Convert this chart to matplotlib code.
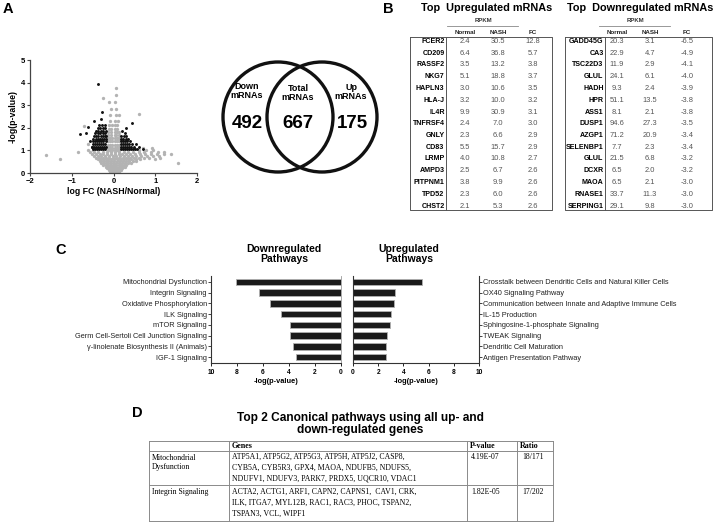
import matplotlib
matplotlib.use('Agg')
import matplotlib.pyplot as plt
from matplotlib.patches import Circle

plt.rcParams['font.family'] = ['Liberation Sans', 'DejaVu Sans']

W, H = 714, 524

# ---------------- data ----------------
# Panel A volcano, rows of (y, [x...])
gray_rows = [
    (0.04, [-0.08, -0.04, 0.0, 0.04, 0.08, 0.12]),
    (0.12, [-0.11, -0.07, -0.03, 0.01, 0.05, 0.09, 0.13, 0.17]),
    (0.20, [-0.15, -0.1, -0.05, 0.0, 0.05, 0.1, 0.15, 0.2]),
    (0.28, [-0.19, -0.14, -0.08, -0.03, 0.02, 0.07, 0.12, 0.17, 0.22, 0.27]),
    (0.36, [-0.24, -0.18, -0.12, -0.06, 0.0, 0.06, 0.12, 0.18, 0.24, 0.3]),
    (0.44, [-0.29, -0.22, -0.15, -0.08, -0.01, 0.06, 0.13, 0.2, 0.27, 0.34, 0.41]),
    (0.52, [-0.33, -0.26, -0.19, -0.12, -0.05, 0.02, 0.09, 0.16, 0.23, 0.3, 0.38, 0.46, 0.55]),
    (0.60, [-0.38, -0.3, -0.22, -0.14, -0.06, 0.02, 0.1, 0.18, 0.26, 0.34, 0.43, 0.53, 0.64]),
    (0.68, [-0.42, -0.34, -0.26, -0.18, -0.1, -0.02, 0.06, 0.14, 0.22, 0.3, 0.39, 0.49, 0.6, 0.72, 0.85]),
    (0.76, [-0.47, -0.38, -0.29, -0.2, -0.11, -0.02, 0.07, 0.16, 0.25, 0.34, 0.44, 0.55, 0.67, 0.8, 0.95, 1.1]),
    (0.84, [-0.51, -0.42, -0.33, -0.24, -0.15, -0.06, 0.03, 0.12, 0.21, 0.3, 0.4, 0.51, 0.63, 0.76, 0.9, 1.05, 1.2, 1.38]),
    (0.92, [-0.56, -0.46, -0.36, -0.26, -0.16, -0.06, 0.04, 0.14, 0.24, 0.35, 0.47, 0.6, 0.74, 0.9, 1.06, 1.22]),
    (1.00, [-0.6, -0.5, -0.13, -0.08, -0.03, 0.03, 0.08, 0.13, 0.62, 0.78, 0.95]),
    (1.12, [-0.14, -0.09, -0.04, 0.04, 0.09, 0.14, 0.7, 0.92]),
    (1.26, [-0.14, -0.09, -0.04, 0.04, 0.09, 0.13]),
    (1.40, [-0.14, -0.08, -0.03, 0.03, 0.08, 0.13]),
    (1.54, [-0.13, -0.08, -0.03, 0.03, 0.08, 0.12]),
    (1.68, [-0.12, -0.07, 0.03, 0.07, 0.12]),
    (1.82, [-0.12, -0.06, 0.03, 0.08, 0.13]),
    (1.96, [-0.11, -0.05, 0.03, 0.08]),
    (2.12, [-0.1, -0.04, 0.03, 0.09]),
    (2.30, [-0.09, 0.04, 0.1]),
    (2.55, [-0.08, 0.05, 0.12]),
    (2.85, [-0.06, 0.06]),
    (3.15, [-0.1, 0.04]),
    (3.45, [0.06]),
    (3.75, [0.07]),
]
gray_extra_x = [-1.62, -1.28, -0.85, -0.7, -0.62, 1.55, 1.0, 0.6, -0.25, 1.12]
gray_extra_y = [0.78, 0.6, 0.95, 2.1, 1.3, 0.45, 0.62, 2.6, 3.3, 0.68]

down_rows = [
    (1.04, [-0.5, -0.45, -0.4, -0.35, -0.3, -0.25, -0.2]),
    (1.16, [-0.52, -0.47, -0.42, -0.37, -0.32, -0.27, -0.22, -0.17]),
    (1.28, [-0.5, -0.45, -0.4, -0.35, -0.3, -0.25, -0.2]),
    (1.40, [-0.49, -0.44, -0.39, -0.34, -0.29, -0.24, -0.18]),
    (1.52, [-0.48, -0.43, -0.38, -0.33, -0.28, -0.23, -0.18]),
    (1.64, [-0.46, -0.41, -0.36, -0.31, -0.26, -0.21, -0.17]),
    (1.76, [-0.44, -0.38, -0.32, -0.26, -0.2]),
    (1.88, [-0.42, -0.36, -0.3, -0.24, -0.18]),
    (2.00, [-0.38, -0.32, -0.26, -0.2]),
    (2.12, [-0.34, -0.27, -0.21]),
]
down_extra_x = [-0.37, -0.65, -0.8, -0.6, -0.56, -0.3, -0.46, -0.28, -0.52]
down_extra_y = [3.95, 1.75, 1.72, 2.05, 1.4, 2.4, 2.3, 2.72, 1.15]

up_rows = [
    (1.04, [0.17, 0.22, 0.27, 0.32, 0.37, 0.42, 0.47, 0.52, 0.57]),
    (1.16, [0.17, 0.22, 0.27, 0.32, 0.37, 0.42, 0.48]),
    (1.28, [0.17, 0.22, 0.27, 0.32, 0.38, 0.44]),
    (1.40, [0.17, 0.22, 0.27, 0.33, 0.39]),
    (1.52, [0.17, 0.23, 0.29, 0.35]),
    (1.64, [0.18, 0.24, 0.31]),
]
up_extra_x = [0.45, 0.62, 0.7, 0.2, 0.3, 0.55, 0.28]
up_extra_y = [2.2, 1.15, 1.05, 1.85, 2.0, 1.3, 1.78]

# Venn
venn_labels = ['Down\nmRNAs', 'Total\nmRNAs', 'Up\nmRNAs']
venn_counts = [492, 667, 175]

# Panel B tables
up_genes = ['FCER2', 'CD209', 'RASSF2', 'NKG7', 'HAPLN3', 'HLA-J', 'IL4R', 'TNFRSF4',
            'GNLY', 'CD83', 'LRMP', 'AMPD3', 'PITPNM1', 'TPD52', 'CHST2']
up_normal = [2.4, 6.4, 3.5, 5.1, 3.0, 3.2, 9.9, 2.4, 2.3, 5.5, 4.0, 2.5, 3.8, 2.3, 2.1]
up_nash = [30.5, 36.8, 13.2, 18.8, 10.6, 10.0, 30.9, 7.0, 6.6, 15.7, 10.8, 6.7, 9.9, 6.0, 5.3]
up_fc = [12.8, 5.7, 3.8, 3.7, 3.5, 3.2, 3.1, 3.0, 2.9, 2.9, 2.7, 2.6, 2.6, 2.6, 2.6]

down_genes = ['GADD45G', 'CA3', 'TSC22D3', 'GLUL', 'HADH', 'HPR', 'ASS1', 'DUSP1',
              'AZGP1', 'SELENBP1', 'GLUL', 'DCXR', 'MAOA', 'RNASE1', 'SERPING1']
down_normal = [20.3, 22.9, 11.9, 24.1, 9.3, 51.1, 8.1, 94.6, 71.2, 7.7, 21.5, 6.5, 6.5, 33.7, 29.1]
down_nash = [3.1, 4.7, 2.9, 6.1, 2.4, 13.5, 2.1, 27.3, 20.9, 2.3, 6.8, 2.0, 2.1, 11.3, 9.8]
down_fc = [-6.5, -4.9, -4.1, -4.0, -3.9, -3.8, -3.8, -3.5, -3.4, -3.4, -3.2, -3.2, -3.0, -3.0, -3.0]

# Panel C pathways
down_paths = ['Mitochondrial Dysfunction', 'Integrin Signaling', 'Oxidative Phosphorylation',
              'ILK Signaling', 'mTOR Signaling', 'Germ Cell-Sertoli Cell Junction Signaling',
              'γ-linolenate Biosynthesis II (Animals)', 'IGF-1 Signaling']
down_logp = [8.1, 6.3, 5.5, 4.6, 3.9, 3.9, 3.7, 3.5]
up_paths = ['Crosstalk between Dendritic Cells and Natural Killer Cells', 'OX40 Signaling Pathway',
            'Communication between Innate and Adaptive Immune Cells', 'IL-15 Production',
            'Sphingosine-1-phosphate Signaling', 'TWEAK Signaling', 'Dendritic Cell Maturation',
            'Antigen Presentation Pathway']
up_logp = [5.45, 3.35, 3.25, 3.0, 2.9, 2.7, 2.65, 2.6]

# Panel D table
d_pathways = ['Mitochondrial\nDysfunction', 'Integrin Signaling']
d_genes = [
    ['ATP5A1, ATP5G2, ATP5G3, ATP5H, ATP5J2, CASP8,',
     'CYB5A, CYB5R3, GPX4, MAOA, NDUFB5, NDUFS5,',
     'NDUFV1, NDUFV3, PARK7, PRDX5, UQCR10, VDAC1'],
    ['ACTA2, ACTG1, ARF1, CAPN2, CAPNS1,  CAV1, CRK,',
     'ILK, ITGA7, MYL12B, RAC1, RAC3, PHOC, TSPAN2,',
     'TSPAN3, VCL, WIPF1'],
]
d_pvalues = ['4.19E-07', '1.82E-05']
d_ratios = ['18/171', '17/202']

# ---------------- figure ----------------
fig = plt.figure(figsize=(7.14, 5.24), dpi=100)


def rect(l, t, r, b):
    return [l / W, 1 - b / H, (r - l) / W, (b - t) / H]


def flat(rows):
    xs, ys = [], []
    for y, row in rows:
        for x in row:
            xs.append(x)
            ys.append(y)
    return xs, ys


# Panel A: volcano
axA = fig.add_axes(rect(30, 60, 197, 173))
gx, gy = flat(gray_rows)
axA.plot(gx + gray_extra_x, gy + gray_extra_y, 'o', color='#b3b3b3', ms=2.4, mew=0, zorder=2)
dx, dy = flat(down_rows)
axA.plot(dx + down_extra_x, dy + down_extra_y, 'o', color='#111111', ms=2.1, mew=0, zorder=3)
ux, uy = flat(up_rows)
axA.plot(ux + up_extra_x, uy + up_extra_y, 'o', color='#111111', ms=2.1, mew=0, zorder=3)
axA.set_xlim(-2, 2)
axA.set_ylim(0, 5)
axA.set_xticks([-2, -1, 0, 1, 2])
axA.set_yticks([0, 1, 2, 3, 4, 5])
for s in ['top', 'right']:
    axA.spines[s].set_visible(False)
for s in ['left', 'bottom']:
    axA.spines[s].set_color('#444444')
    axA.spines[s].set_linewidth(0.9)
axA.tick_params(length=2.5, width=0.8, color='#444444', pad=1, labelsize=5.5)
for lb in axA.get_xticklabels() + axA.get_yticklabels():
    lb.set_fontweight('bold')
axA.set_xlabel('log FC (NASH/Normal)', fontsize=6.3, fontweight='bold', labelpad=1.5)
axA.set_ylabel('-log(p-value)', fontsize=6.3, fontweight='bold', labelpad=2)

# Panel C: bars
axL = fig.add_axes(rect(211, 276, 341, 363))
yp = list(range(len(down_paths)))
axL.barh(yp, down_logp, height=0.62, color='#1a1a1a', edgecolor='#b0b0b0', linewidth=0.6)
axL.set_xlim(10, 0)
axL.set_ylim(len(down_paths) - 0.45, -0.55)
axL.set_yticks(yp)
axL.set_yticklabels(down_paths, fontsize=5.3)
axL.set_xticks([10, 8, 6, 4, 2, 0])
axL.spines['top'].set_visible(False)
axL.spines['right'].set_color('#9a9a9a')
axL.spines['right'].set_linewidth(0.6)
for s in ['left', 'bottom']:
    axL.spines[s].set_color('#333333')
    axL.spines[s].set_linewidth(0.8)
axL.tick_params(axis='y', length=2, width=0.6, pad=1, colors='#222222')
axL.tick_params(axis='x', length=2, width=0.6, pad=2, labelsize=4.8)
for lb in axL.get_xticklabels():
    lb.set_fontweight('bold')
axL.set_xlabel('-log(p-value)', fontsize=5.3, fontweight='bold', labelpad=2)

axR = fig.add_axes(rect(353, 276, 479, 363))
axR.barh(yp, up_logp, height=0.62, color='#1a1a1a', edgecolor='#b0b0b0', linewidth=0.6)
axR.set_xlim(0, 10)
axR.set_ylim(len(up_paths) - 0.45, -0.55)
axR.yaxis.tick_right()
axR.set_yticks(yp)
axR.set_yticklabels(up_paths, fontsize=5.3)
axR.set_xticks([0, 2, 4, 6, 8, 10])
axR.spines['top'].set_visible(False)
for s in ['left', 'bottom', 'right']:
    axR.spines[s].set_color('#333333')
    axR.spines[s].set_linewidth(0.8)
axR.tick_params(axis='y', length=2, width=0.6, pad=1, colors='#222222')
axR.tick_params(axis='x', length=2, width=0.6, pad=2, labelsize=4.8)
for lb in axR.get_xticklabels():
    lb.set_fontweight('bold')
axR.set_xlabel('-log(p-value)', fontsize=5.3, fontweight='bold', labelpad=2)

# Overlay in pixel coordinates
ov = fig.add_axes([0, 0, 1, 1], zorder=-1)
ov.set_xlim(0, W)
ov.set_ylim(H, 0)
ov.axis('off')

# Panel labels
for lab, x, y in [('A', 8, 9), ('B', 388, 9), ('C', 61, 250), ('D', 137, 413)]:
    ov.text(x, y, lab, fontsize=10.5, fontweight='bold', ha='center', va='center')

# Venn
for cx in (278, 322):
    ov.add_patch(Circle((cx, 117), 55, fill=False, lw=2.4, ec='#111111'))
for (lx, ly), txt in zip([(247, 91), (298, 93), (351, 92)], venn_labels):
    ov.text(lx, ly, txt, fontsize=6.5, fontweight='bold', ha='center', va='center', linespacing=1.05)
for nx, n in zip([247, 298, 352], venn_counts):
    ov.text(nx, 123, str(n), fontsize=13.5, fontweight='bold', ha='center', va='center')


# Panel B tables
def draw_table(title, tcx, left, sep, right, cols, genes, normal, nash, fc):
    ov.text(tcx, 8, title, fontsize=7.8, fontweight='bold', ha='center', va='center')
    ov.text((cols[0] + cols[1]) / 2 + 2, 21, 'RPKM', fontsize=4.3, fontweight='bold', ha='center', va='center', color='#333333')
    ov.plot([cols[0] - 18, cols[1] + 20], [26, 26], color='#888888', lw=0.6)
    for cx, h in zip(cols, ['Normal', 'NASH', 'FC']):
        ov.text(cx, 32, h, fontsize=4.5, fontweight='bold', ha='center', va='center', color='#222222')
    top, bot = 37, 210
    ov.plot([left, right, right, left, left], [top, top, bot, bot, top], color='#555555', lw=0.7)
    ov.plot([sep, sep], [top, bot], color='#555555', lw=0.7)
    for i, g in enumerate(genes):
        y = 41.5 + i * 11.75
        ov.text(sep - 1.5, y, g, fontsize=5.1, fontweight='bold', ha='right', va='center')
        for cx, v in zip(cols, [normal[i], nash[i], fc[i]]):
            ov.text(cx, y, f'{v:.1f}', fontsize=5.4, ha='center', va='center', color='#555555')


draw_table('Top  Upregulated mRNAs', 487, 410, 446, 552, [465, 498, 533],
           up_genes, up_normal, up_nash, up_fc)
draw_table('Top  Downregulated mRNAs', 640, 565, 605, 712, [617, 650, 687],
           down_genes, down_normal, down_nash, down_fc)

# Panel C titles
ov.text(284, 254, 'Downregulated\nPathways', fontsize=7.5, fontweight='bold', ha='center', va='center', linespacing=1.0)
ov.text(409, 254, 'Upregulated\nPathways', fontsize=7.5, fontweight='bold', ha='center', va='center', linespacing=1.0)

# Panel D
ov.text(360, 424, 'Top 2 Canonical pathways using all up- and\ndown-regulated genes', fontsize=8.6,
        fontweight='bold', ha='center', va='center', linespacing=1.05)
xs = [149, 229, 467, 517, 553]
ys = [441, 451, 485, 521]
lc = '#8a8a8a'
for y in ys:
    ov.plot([xs[0], xs[-1]], [y, y], color=lc, lw=0.7)
for x in xs:
    ov.plot([x, x], [ys[0], ys[-1]], color=lc, lw=0.7)
serif = ['Liberation Serif', 'DejaVu Serif']
for x, h in zip([xs[1] + 3, xs[2] + 3, xs[3] + 3], ['Genes', 'P-value', 'Ratio']):
    ov.text(x, 446, h, family=serif, fontsize=5.8, fontweight='bold', ha='left', va='center')
row_tops = [457, 492]
for r in range(2):
    ov.text(xs[0] + 3, row_tops[r] - 3.5, d_pathways[r], family=serif, fontsize=5.6, ha='left', va='top', linespacing=1.25)
    for k, line in enumerate(d_genes[r]):
        ov.text(xs[1] + 3, row_tops[r] + k * 11, line, family=serif, fontsize=5.6, ha='left', va='center')
    ov.text(xs[2] + 4, row_tops[r], d_pvalues[r], family=serif, fontsize=5.6, ha='left', va='center')
    ov.text(xs[3] + 5, row_tops[r], d_ratios[r], family=serif, fontsize=5.6, ha='left', va='center')

fig.savefig('out.png', dpi=100)
